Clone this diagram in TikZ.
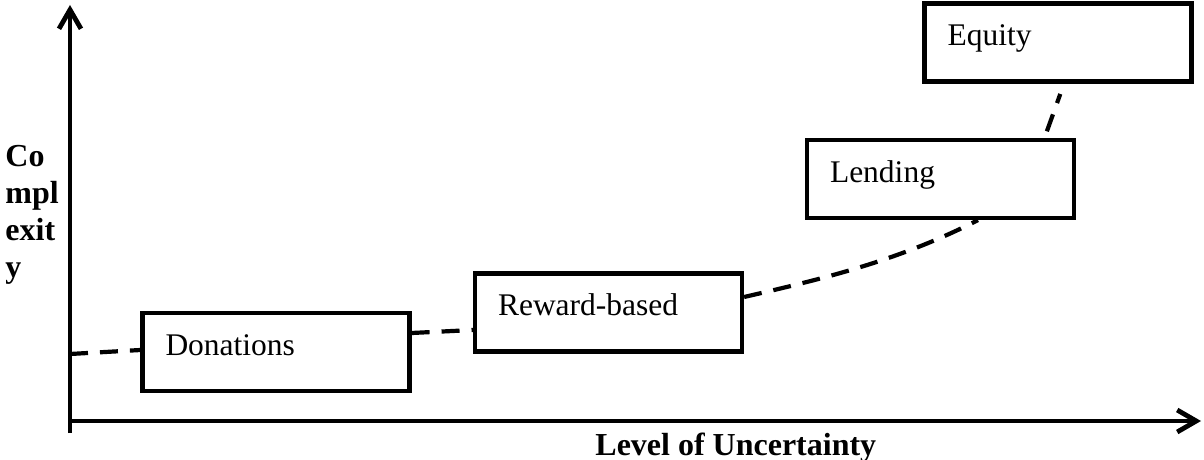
\documentclass[tikz,border=0pt]{standalone}
\usepackage{fontspec}
\setmainfont{Liberation Serif}
\usetikzlibrary{arrows.meta}
\tikzset{
  stagebox/.style={draw, line width=2.1pt, inner ysep=0pt, inner xsep=11.5pt,
    text width=110.5pt, align=left, text height=21pt, text depth=18pt,
    font=\fontsize{15.75}{18}\selectfont},
  axis/.style={line width=2pt},
  axisarrow/.style={axis, -{Straight Barb[length=9.5pt,width=11pt,line width=2.4pt]}},
  trend/.style={line width=2.1pt, dash pattern=on 9pt off 6pt},
  axislabel/.style={font=\fontsize{16}{18.5}\selectfont\bfseries, inner sep=0pt, align=left}
}
\begin{document}
\begin{tikzpicture}[x=0.5pt,y=-0.5pt]
\useasboundingbox (0,0) rectangle (1204,460);
% axes
\coordinate (ybot) at (70,433);
\coordinate (ytop) at (70,5);
\coordinate (xleft) at (68,421);
\coordinate (xright) at (1201,421);
\draw[axisarrow] (ybot) -- (ytop);
\draw[axisarrow] (xleft) -- (xright);
% boxes
\node[stagebox] (don) at (276,352) {Donations};
\node[stagebox] (rew) at (608.5,312.5) {Reward-based};
\node[stagebox] (len) at (940.5,179) {Lending};
\node[stagebox] (equ) at (1058,42.5) {Equity};
% labels
\node[axislabel, anchor=base west] (cplx) at (5,277) {Co\\mpl\\exit\\y};
\node[axislabel, anchor=base west] (lou) at (595,455) {Level of Uncertainty};
% trend
\coordinate (start) at (70,354);
\draw[trend] (start) -- ([yshift=1pt]don.west);
\draw[trend] ([yshift=9.5pt]don.east) -- ([yshift=-8.75pt]rew.west);
\draw[trend] ([yshift=7.75pt]rew.east) .. controls (822,279) and (898,261) .. ([xshift=18.75pt]len.south);
\draw[trend, shorten <=3.5pt, shorten >=5.5pt] ([xshift=52pt]len.north) -- ([xshift=3pt]equ.south);
\end{tikzpicture}
\end{document}
